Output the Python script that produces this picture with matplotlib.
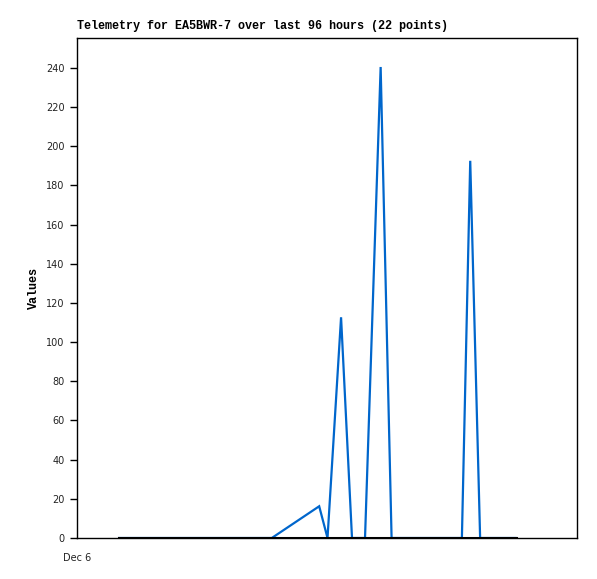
import matplotlib
matplotlib.use("Agg")
import matplotlib.pyplot as plt

# hours since Dec 6 00:00
hours = [8.1, 14.0, 20.0, 26.0, 32.0, 37.4, 46.5, 48.1, 50.7, 52.8, 55.3,
         58.3, 60.4, 64.0, 68.0, 73.9, 75.5, 77.4, 79.0, 81.0, 83.0, 84.2]
values = [0, 0, 0, 0, 0, 0, 16.2, 0, 112.7, 0, 0,
          240.5, 0, 0, 0, 0, 192.6, 0, 0, 0, 0, 0]
zero_series = [0] * len(hours)

title = "Telemetry for EA5BWR-7 over last 96 hours (22 points)"
xtick_pos = [0]
xtick_labels = ["Dec 6"]
yticks = list(range(0, 241, 20))

W, H = 597, 579
fig = plt.figure(figsize=(W / 100, H / 100), dpi=100)
ax = fig.add_axes([77 / W, (H - 538) / H, 500 / W, 500 / H])

ax.plot(hours, values, color="#0066cc", lw=1.6, solid_joinstyle="miter")
ax.plot(hours, zero_series, color="black", lw=2.2)

ax.set_xlim(0, 96)
ax.set_ylim(0, 255.3)
ax.set_yticks(yticks)
ax.set_yticklabels([str(v) for v in yticks], fontsize=7, family="DejaVu Sans", color="#222222")
ax.set_xticks(xtick_pos)
ax.set_xticklabels(xtick_labels, fontsize=7, family="DejaVu Sans", color="#222222")
ax.tick_params(axis="y", direction="out", length=5, width=1, pad=4)
ax.tick_params(axis="x", direction="out", length=0, pad=11)

for s in ax.spines.values():
    s.set_linewidth(1)
    s.set_color("black")

ax.set_ylabel("Values", family="Liberation Mono", fontweight="bold", fontsize=8.5, labelpad=4)
fig.text(77 / W, (H - 32) / H, title, family="Liberation Mono", fontweight="bold",
         fontsize=8.5, ha="left", va="bottom")

fig.savefig("out.png", dpi=100)
